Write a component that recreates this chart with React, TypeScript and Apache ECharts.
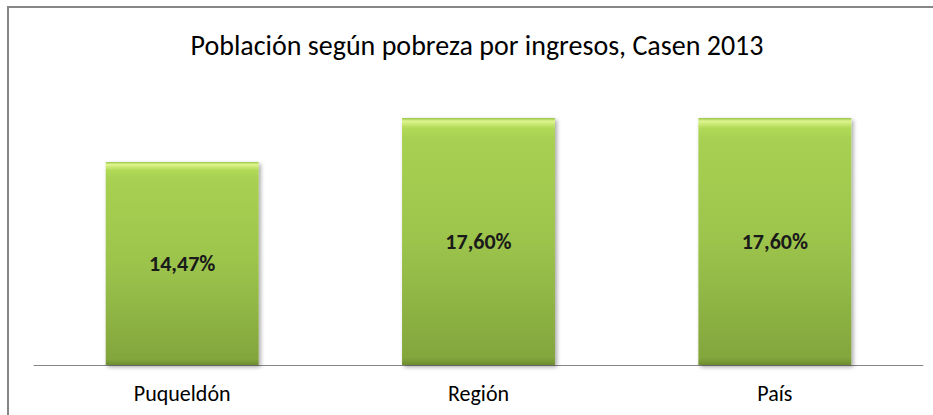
import React, { useEffect, useRef } from "react";
import * as echarts from "echarts";

const titleText = "Población según pobreza por ingresos, Casen 2013";
const categories = ["Puqueldón", "Región", "País"];
const values = [14.47, 17.6, 17.6];

const FONT = "Carlito, 'Open Sans', 'Noto Sans', sans-serif";

export default function App() {
  const ref = useRef<HTMLDivElement>(null);
  useEffect(() => {
    document.body.style.margin = "0";
    const chart = echarts.init(ref.current!, null, { renderer: "svg" });
    chart.setOption({
      animation: false,
      backgroundColor: "#ffffff",
      title: {
        text: titleText,
        left: 472,
        top: 26,
        textAlign: "center",
        textStyle: { fontFamily: FONT, fontSize: 28, fontWeight: "normal", color: "#000000" },
      },
      graphic: [
        {
          type: "rect",
          shape: { x: 8, y: 7, width: 960, height: 500 },
          style: { fill: "none", stroke: "#868686", lineWidth: 2 },
          silent: true,
        },
      ],
      grid: { left: 34, right: 10, top: 84.4, bottom: 50, containLabel: false },
      xAxis: {
        type: "category",
        data: categories,
        axisLine: { show: true, lineStyle: { color: "#868686", width: 1 } },
        axisTick: { show: false },
        axisLabel: { fontFamily: FONT, fontSize: 22, color: "#000000", margin: 17 },
      },
      yAxis: {
        type: "value",
        min: 0,
        max: 20,
        show: false,
        splitLine: { show: false },
      },
      series: [
        {
          type: "bar",
          data: values,
          barWidth: "51.6%",
          itemStyle: {
            color: new echarts.graphic.LinearGradient(0, 0, 0, 1, [
              { offset: 0, color: "#98c448" },
              { offset: 0.012, color: "#def58e" },
              { offset: 0.04, color: "#b2da58" },
              { offset: 0.08, color: "#a8d152" },
              { offset: 0.5, color: "#9cc44c" },
              { offset: 0.97, color: "#83a63d" },
              { offset: 1, color: "#6e8d30" },
            ]),
            shadowColor: "rgba(0,0,0,0.35)",
            shadowBlur: 4,
            shadowOffsetX: 2,
            shadowOffsetY: 2,
          },
          label: {
            show: true,
            position: "inside",
            formatter: (p: any) => p.value.toFixed(2).replace(".", ",") + "%",
            fontFamily: FONT,
            fontSize: 22,
            fontWeight: "bold",
            color: "#1a1a1a",
          },
        },
      ],
    });
    return () => chart.dispose();
  }, []);
  return <div ref={ref} style={{ width: 933, height: 415 }} />;
}
